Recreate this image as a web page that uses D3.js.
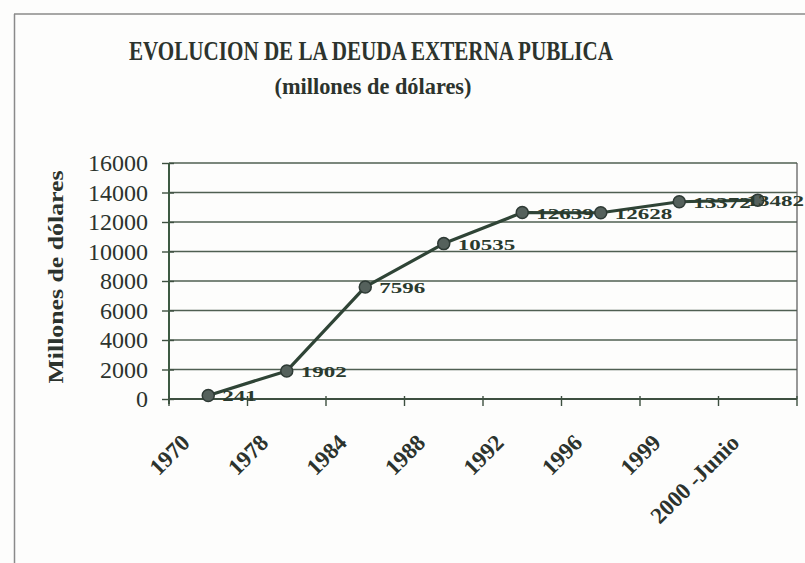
<!DOCTYPE html>
<html>
<head>
<meta charset="utf-8">
<script src="https://cdn.jsdelivr.net/npm/d3@7"></script>
<style>
  html, body { margin: 0; padding: 0; background: #fdfdfc; }
  svg { display: block; }
</style>
</head>
<body>
<svg id="chart" width="805" height="563"></svg>
<script>
// Deuda externa pública (millones de dólares)
const categories = ["1970", "1978", "1984", "1988", "1992", "1996", "1999", "2000 -Junio"];
const values = [241, 1902, 7596, 10535, 12639, 12628, 13372, 13482];
const yTicks = [0, 2000, 4000, 6000, 8000, 10000, 12000, 14000, 16000];
const titleLines = ["EVOLUCION DE LA DEUDA EXTERNA PUBLICA", "(millones de dólares)"];
const yTitle = "Millones de dólares";

const svg = d3.select("#chart");
const serif = "'Liberation Serif', 'Times New Roman', serif";
const ink = "#2c332d";
const gridColor = "#4f5f52";
const lineColor = "#2f4436";

const plot = { left: 169, right: 797, top: 163, bottom: 399 };
const W = 805;

const x = d3.scaleBand().domain(categories).range([plot.left, plot.right]).paddingInner(0).paddingOuter(0);
const y = d3.scaleLinear().domain([0, 16000]).range([plot.bottom, plot.top]);

// outer frame of the chart area
svg.append("line").attr("x1", 14).attr("x2", W).attr("y1", 14).attr("y2", 14)
  .attr("stroke", "#8a8a8a").attr("stroke-width", 1.5);
svg.append("line").attr("x1", 14.5).attr("x2", 14.5).attr("y1", 14).attr("y2", 563)
  .attr("stroke", "#8a8a8a").attr("stroke-width", 1.5);

// titles
svg.append("text").attr("x", 371).attr("y", 60).attr("text-anchor", "middle")
  .attr("font-family", serif).attr("font-weight", "bold").attr("font-size", 27)
  .attr("fill", ink).attr("textLength", 484).attr("lengthAdjust", "spacingAndGlyphs")
  .text(titleLines[0]);
svg.append("text").attr("x", 373).attr("y", 94).attr("text-anchor", "middle")
  .attr("font-family", serif).attr("font-weight", "bold").attr("font-size", 24)
  .attr("fill", ink).attr("textLength", 197).attr("lengthAdjust", "spacingAndGlyphs")
  .text(titleLines[1]);

// gridlines
svg.append("g").selectAll("line").data(yTicks).join("line")
  .attr("x1", plot.left).attr("x2", plot.right)
  .attr("y1", d => y(d)).attr("y2", d => y(d))
  .attr("stroke", gridColor).attr("stroke-width", 1.4);

// plot area right border
svg.append("line").attr("x1", plot.right).attr("x2", plot.right)
  .attr("y1", plot.top).attr("y2", plot.bottom)
  .attr("stroke", "#555").attr("stroke-width", 1.2);

// y axis
const yAxis = svg.append("g").attr("transform", `translate(${plot.left},0)`)
  .call(d3.axisLeft(y).tickValues(yTicks).tickSize(0).tickFormat(d3.format("d")));
yAxis.select(".domain").remove();
yAxis.selectAll(".tick line").remove();
yAxis.selectAll(".tick").append("line")
  .attr("x1", -7).attr("x2", 5).attr("stroke", "#3d4f40").attr("stroke-width", 1.4);
yAxis.selectAll(".tick text")
  .attr("x", -21).attr("dy", "0.33em")
  .attr("font-family", serif).attr("font-size", 24).attr("fill", ink);
svg.append("line").attr("x1", plot.left).attr("x2", plot.left)
  .attr("y1", plot.top).attr("y2", plot.bottom + 5)
  .attr("stroke", "#3d5a42").attr("stroke-width", 2);

// x axis
const xAxis = svg.append("g").attr("transform", `translate(0,${plot.bottom})`)
  .call(d3.axisBottom(x).tickSize(0));
xAxis.select(".domain").remove();
xAxis.selectAll(".tick text").remove();
const bounds = categories.map(c => x(c)).concat([plot.right]);
xAxis.selectAll(".xtick").data(bounds).join("line").attr("class", "xtick")
  .attr("x1", d => d).attr("x2", d => d).attr("y1", -3).attr("y2", 7)
  .attr("stroke", "#3d4f40").attr("stroke-width", 1.4);
xAxis.append("line").attr("x1", plot.left).attr("x2", plot.right)
  .attr("stroke", "#3d4f40").attr("stroke-width", 2);
xAxis.selectAll(".xlabel").data(categories).join("text").attr("class", "xlabel")
  .attr("transform", d => `translate(${x(d) + x.bandwidth() / 2 - 17},45) rotate(-45)`)
  .attr("text-anchor", "end")
  .attr("font-family", serif).attr("font-weight", "bold").attr("font-size", 23)
  .attr("fill", ink).text(d => d);

// y axis title
svg.append("text")
  .attr("transform", "translate(63,277) rotate(-90)")
  .attr("text-anchor", "middle")
  .attr("font-family", serif).attr("font-weight", "bold").attr("font-size", 21)
  .attr("fill", ink).attr("textLength", 213).attr("lengthAdjust", "spacingAndGlyphs")
  .text(yTitle);

// series line
const cx = (d, i) => x(categories[i]) + x.bandwidth() / 2;
const line = d3.line().x((d, i) => cx(d, i)).y(d => y(d));
svg.append("path").datum(values).attr("d", line)
  .attr("fill", "none").attr("stroke", lineColor).attr("stroke-width", 3.2)
  .attr("stroke-linejoin", "round");

// markers
svg.append("g").selectAll("circle").data(values).join("circle")
  .attr("cx", cx).attr("cy", d => y(d)).attr("r", 6)
  .attr("fill", "#55615c").attr("stroke", "#2e3a35").attr("stroke-width", 1.5);

// value labels: wide, squat bold digits to the right of each marker
const labelW = d => String(d).length * 11.5;
svg.append("g").selectAll("text").data(values).join("text")
  .attr("x", (d, i) => Math.min(cx(d, i) + 14, W - 1 - labelW(d)))
  .attr("y", d => y(d) + 6)
  .attr("font-family", serif).attr("font-weight", "bold").attr("font-size", 15)
  .attr("fill", "#2a3a2e")
  .attr("textLength", labelW).attr("lengthAdjust", "spacingAndGlyphs")
  .text(d => d);
</script>
</body>
</html>
